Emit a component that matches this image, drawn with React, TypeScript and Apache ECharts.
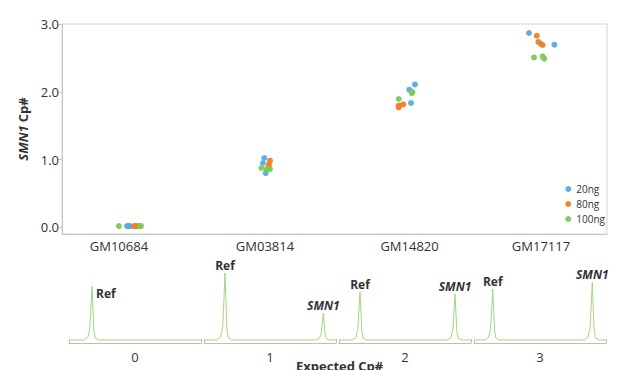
import React, { useEffect, useRef } from 'react';
import * as echarts from 'echarts';

const FONT = '"Open Sans", "Noto Sans", sans-serif';

// Samples and their label positions along the (jittered) sample axis
const samples = ['GM10684', 'GM03814', 'GM14820', 'GM17117'];
const samplePos = [0, 1, 1.99, 2.89];
const cpTicks = [0, 1, 2, 3];

// Measured SMN1 copy number per input amount: x = jittered sample position, y = Cp#
const ng20X = [0.055, 0.068, 0.075, 0.995, 0.986, 1.005, 2.027, 1.988, 2.0, 2.808, 2.89, 2.982];
const ng20Y = [0.02, 0.02, 0.02, 1.024, 0.95, 0.802, 2.109, 2.031, 1.835, 2.867, 2.705, 2.695];
const ng80X = [0.103, 0.116, 0.13, 1.034, 1.027, 1.024, 1.916, 1.916, 1.947, 2.861, 2.872, 2.901];
const ng80Y = [0.02, 0.02, 0.02, 0.984, 0.925, 0.895, 1.795, 1.77, 1.814, 2.827, 2.735, 2.69];
const ng100X = [0.0, 0.151, 0.144, 0.975, 1.011, 1.034, 2.01, 2.005, 1.916, 2.842, 2.901, 2.912];
const ng100Y = [0.02, 0.02, 0.02, 0.876, 0.861, 0.861, 1.997, 1.98, 1.894, 2.507, 2.522, 2.488];

const seriesNames = ['20ng', '80ng', '100ng'];
const seriesColors = ['#5aaae0', '#f47d22', '#7dc95a'];

// Electropherogram panels, one per expected copy number
const panelLabels = ['0', '1', '2', '3'];
const refPeakPos = [17.4, 15.9, 15.9, 14.2];
const refPeakHeight = [54, 67, 48, 51];
const smnPeakPos = [null, 90.4, 87.9, 89.6];
const smnPeakHeight = [0, 27, 46, 58];

// Shape of a single peak: offsets along the trace and relative heights
const peakProfileDx = [-6, -3.2, -1.7, -0.8, 0, 0.7, 1.4, 2.4, 5];
const peakProfileRel = [0, 0.05, 0.2, 0.6, 1, 0.6, 0.18, 0.04, 0];

const panelLefts = [69, 204, 339, 474];

function nearestSample(v: number) {
  let best = 0;
  samplePos.forEach((p, i) => {
    if (Math.abs(p - v) < Math.abs(samplePos[best] - v)) best = i;
  });
  return samples[best];
}

const labelBase = {
  fontFamily: FONT,
  fontWeight: 'bold' as const,
  fontSize: 12,
  color: '#333',
};

function buildTrace(k: number) {
  const peaks: { pos: number; h: number; name: string }[] = [
    { pos: refPeakPos[k], h: refPeakHeight[k], name: 'Ref' },
  ];
  const sp = smnPeakPos[k];
  if (sp !== null) peaks.push({ pos: sp, h: smnPeakHeight[k], name: 'SMN1' });
  const data: any[] = [[0, 0]];
  peaks.forEach((pk) => {
    peakProfileDx.forEach((dx, j) => {
      const y = pk.h * peakProfileRel[j];
      if (dx === 0) {
        const isRef = pk.name === 'Ref';
        const label: any = {
          show: true,
          formatter: pk.name,
          ...labelBase,
          fontStyle: isRef ? 'normal' : 'italic',
        };
        if (k === 0) {
          label.position = 'right';
          label.distance = 4;
          label.offset = [0, 7];
        } else {
          label.position = 'top';
          label.distance = 2;
        }
        data.push({ value: [pk.pos + dx, y], label });
      } else {
        data.push([pk.pos + dx, y]);
      }
    });
  });
  data.push([100, 0]);
  return data;
}

const scatterData = [
  ng20X.map((x, i) => [x, ng20Y[i]]),
  ng80X.map((x, i) => [x, ng80Y[i]]),
  ng100X.map((x, i) => [x, ng100Y[i]]),
];

const option: any = {
  animation: false,
  backgroundColor: '#ffffff',
  textStyle: { fontFamily: FONT },
  title: {
    text: 'Expected Cp#',
    left: 296,
    top: 359,
    padding: 0,
    textStyle: { fontFamily: FONT, fontSize: 13, fontWeight: 'bold', color: '#333' },
  },
  legend: {
    data: seriesNames,
    orient: 'vertical',
    right: 15,
    top: 183,
    padding: 0,
    icon: 'circle',
    itemWidth: 6,
    itemHeight: 6,
    itemGap: 3,
    itemTextGap: 4,
    textStyle: { fontFamily: FONT, fontSize: 10, color: '#333', lineHeight: 12 },
  },
  grid: [
    { left: 62, right: 13, top: 24, bottom: 136, show: true, borderColor: '#d4d4d4', borderWidth: 1 },
    ...panelLefts.map((l) => ({ left: l, width: 132, top: 263, bottom: 27 })),
  ],
  xAxis: [
    {
      gridIndex: 0,
      type: 'value',
      min: -0.39,
      max: 3.342,
      axisLine: { show: true, onZero: false, lineStyle: { color: '#c8c8c8' } },
      axisTick: { show: false },
      splitLine: { show: false },
      axisLabel: {
        customValues: samplePos,
        formatter: (v: number) => nearestSample(v),
        color: '#333',
        fontSize: 13,
        margin: 5,
        fontFamily: FONT,
      },
    },
    ...panelLefts.map((_, k) => ({
      gridIndex: k + 1,
      type: 'value',
      min: 0,
      max: 100,
      axisLine: { show: true, onZero: false, lineStyle: { color: '#bdbdbd' } },
      axisTick: { show: true, inside: true, length: 4, customValues: [0, 100], lineStyle: { color: '#bdbdbd' } },
      splitLine: { show: false },
      axisLabel: {
        customValues: [50],
        formatter: () => panelLabels[k],
        color: '#333',
        fontSize: 13,
        margin: 7,
        fontFamily: FONT,
      },
    })),
  ],
  yAxis: [
    {
      gridIndex: 0,
      type: 'value',
      min: -0.097,
      max: 3,
      name: '{i|SMN1} {b|Cp#}',
      nameLocation: 'middle',
      nameGap: 26,
      nameRotate: 90,
      nameTextStyle: {
        rich: {
          i: { fontFamily: FONT, fontStyle: 'italic', fontWeight: 'bold', fontSize: 13, color: '#333' },
          b: { fontFamily: FONT, fontWeight: 'bold', fontSize: 13, color: '#333' },
        },
      },
      axisLine: { show: true, onZero: false, lineStyle: { color: '#c8c8c8' } },
      axisTick: { show: true, length: 4, customValues: cpTicks, lineStyle: { color: '#c8c8c8' } },
      splitLine: { show: false },
      axisLabel: {
        customValues: cpTicks,
        formatter: (v: number) => v.toFixed(1),
        color: '#333',
        fontSize: 13,
        margin: 3,
        fontFamily: FONT,
      },
    },
    ...panelLefts.map((_, k) => ({
      gridIndex: k + 1,
      type: 'value',
      min: -3,
      max: 77,
      show: false,
    })),
  ],
  series: [
    ...seriesNames.map((name, i) => ({
      name,
      type: 'scatter',
      xAxisIndex: 0,
      yAxisIndex: 0,
      symbolSize: 6,
      itemStyle: { color: seriesColors[i], opacity: 0.95 },
      data: scatterData[i],
    })),
    ...panelLefts.map((_, k) => ({
      type: 'line',
      xAxisIndex: k + 1,
      yAxisIndex: k + 1,
      symbol: 'circle',
      symbolSize: 0,
      showSymbol: true,
      showAllSymbol: true,
      silent: true,
      lineStyle: { color: '#a3d585', width: 1 },
      itemStyle: { color: '#a3d585' },
      data: buildTrace(k),
    })),
  ],
};

export default function App() {
  const ref = useRef<HTMLDivElement>(null);
  useEffect(() => {
    const chart = echarts.init(ref.current!, null, { renderer: 'svg' });
    chart.setOption(option);
    return () => chart.dispose();
  }, []);
  return (
    <div
      ref={ref}
      style={{ position: 'absolute', left: 0, top: 0, width: 620, height: 370, background: '#fff' }}
    />
  );
}
